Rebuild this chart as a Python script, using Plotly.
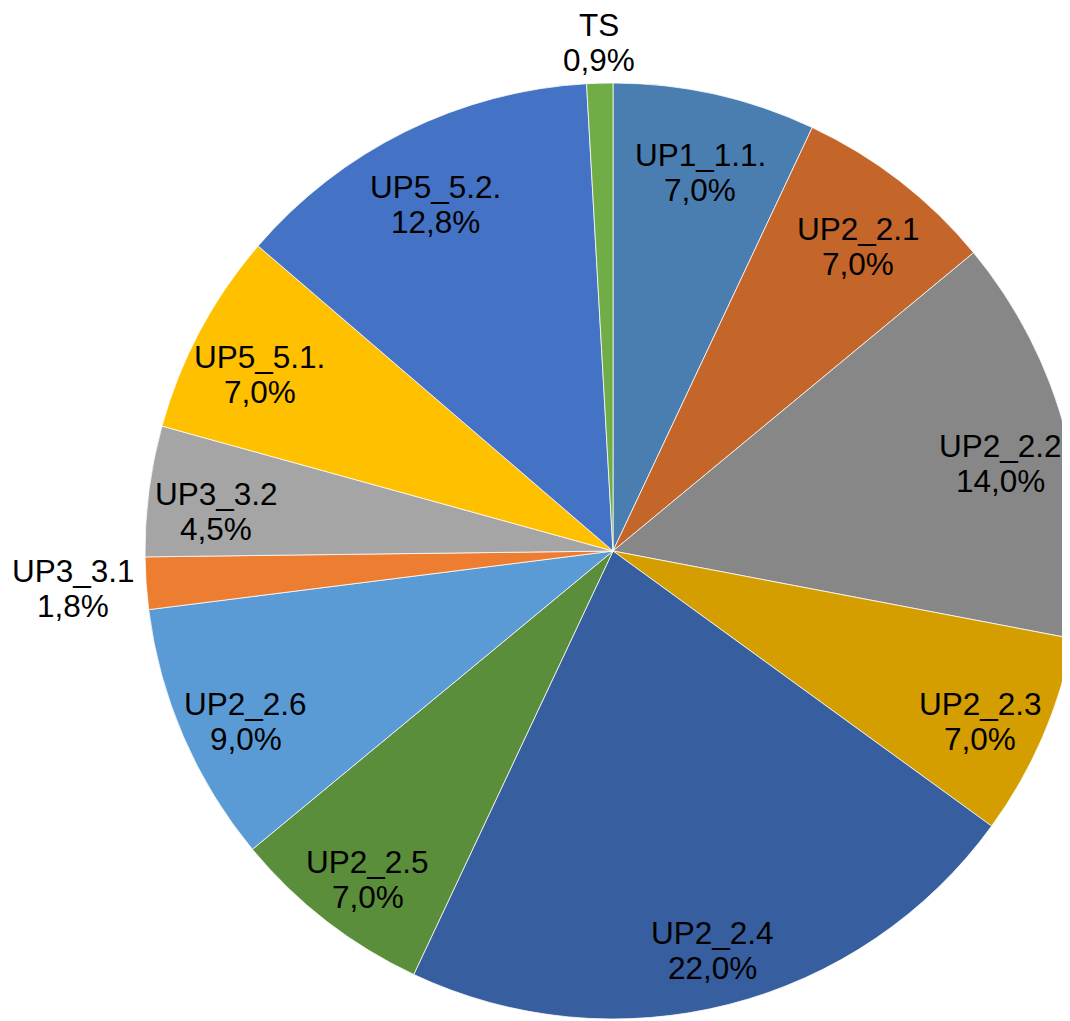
import math
import plotly.graph_objects as go

labels = ["UP1_1.1.", "UP2_2.1", "UP2_2.2", "UP2_2.3", "UP2_2.4", "UP2_2.5",
          "UP2_2.6", "UP3_3.1", "UP3_3.2", "UP5_5.1.", "UP5_5.2.", "TS"]
values = [7.0, 7.0, 14.0, 7.0, 22.0, 7.0, 9.0, 1.8, 4.5, 7.0, 12.8, 0.9]
colors = ["#4A7EB0", "#C4652A", "#878787", "#D49E00", "#375E9F", "#5B8E3A",
          "#5B9BD5", "#ED7D31", "#A5A5A5", "#FFC000", "#4472C4", "#70AD47"]
outside = ["TS", "UP3_3.1"]

pct_text = [f"{v:.1f}".replace(".", ",") + "%" for v in values]

# ---- layout geometry ----
W, H = 1080, 1021
FONT = "Liberation Sans, Arial, sans-serif"
FS = 31.5
LINE_GAP = 35
INSIDE_R = 0.855      # inside labels sit at this fraction of the radius
INSIDE_DROP = 12      # inside label blocks sit slightly low (px)
dom_x = [137 / W, 1073 / W]
dom_y = [10 / H, 946 / H]

# pie centre / radius in pixels (fig coords, y from top)
px0, px1 = dom_x[0] * W, dom_x[1] * W
py_top, py_bot = (1 - dom_y[1]) * H, (1 - dom_y[0]) * H
R = min(px1 - px0, py_bot - py_top) / 2
CX, CY = (px0 + px1) / 2, (py_top + py_bot) / 2

# approximate Arial em widths for text-extent estimation of outside labels
EM = {"U": .722, "P": .667, "T": .611, "S": .667, "_": .556, ".": .278,
      ",": .278, "%": .889}


def text_w(s):
    return sum(EM.get(c, .556) for c in s) * FS


fig = go.Figure(go.Pie(
    labels=labels,
    values=values,
    textinfo="none",
    sort=False,
    direction="clockwise",
    rotation=0,
    marker=dict(colors=colors, line=dict(color="white", width=0.75)),
    showlegend=False,
    hoverinfo="label+percent",
    domain=dict(x=dom_x, y=dom_y),
))

total = sum(values)
cum = 0.0
annotations = []
for lab, v, pct in zip(labels, values, pct_text):
    mid = (cum + v / 2) / total * 2 * math.pi
    cum += v
    sx, cy_ = math.sin(mid), math.cos(mid)
    if lab in outside:
        half_w = max(text_w(lab), text_w(pct)) / 2
        half_h = 30
        d = R + 10 + abs(sx) * half_w + abs(cy_) * half_h
        drop = 0
    else:
        d = INSIDE_R * R
        drop = INSIDE_DROP
    bx = CX + d * sx
    by = CY - d * cy_ + drop
    for txt, shift in ((lab, LINE_GAP / 2), (pct, -LINE_GAP / 2)):
        annotations.append(dict(
            x=bx / W, y=1 - by / H, xref="paper", yref="paper",
            text=txt, showarrow=False, xanchor="center", yanchor="middle",
            yshift=shift, font=dict(family=FONT, size=FS, color="black"),
        ))

fig.update_layout(
    width=W,
    height=H,
    margin=dict(l=0, r=0, t=0, b=0),
    paper_bgcolor="white",
    plot_bgcolor="white",
    annotations=annotations,
)

fig.write_html("out.html")
